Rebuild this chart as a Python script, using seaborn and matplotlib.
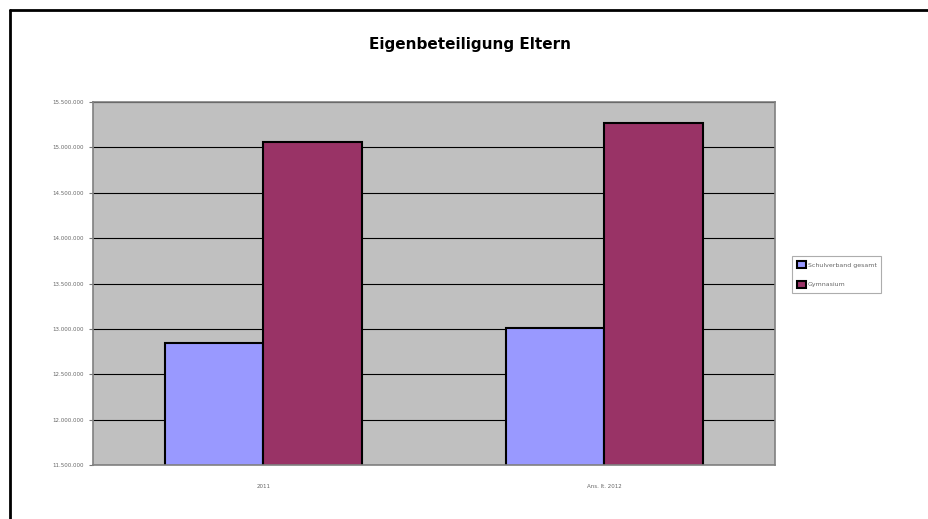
import matplotlib
matplotlib.use('Agg')

import matplotlib.pyplot as plt
from matplotlib.lines import Line2D
import pandas as pd
import seaborn as sns

categories = ["2011", "Ans. lt. 2012"]
series = ["Schulverband gesamt", "Gymnasium"]
schulverband = [12840000, 13010000]
gymnasium = [15060000, 15270000]
yticks = [11500000 + 500000 * i for i in range(9)]
ytick_labels = ["{:,}".format(v).replace(",", ".") for v in yticks]

df = pd.DataFrame({
    "Jahr": categories * 2,
    "Reihe": [series[0]] * 2 + [series[1]] * 2,
    "Wert": schulverband + gymnasium,
})

sns.set_style("white")
plt.rcParams['font.family'] = ['DejaVu Sans']

fig = plt.figure(figsize=(9.29, 5.19), dpi=100)
ax = fig.add_axes([93 / 929, 1 - 465 / 519, (775 - 93) / 929, (465 - 102) / 519])

sns.barplot(data=df, x="Jahr", y="Wert", hue="Reihe", ax=ax,
            palette=["#9999FF", "#993366"], saturation=1, width=0.575, gap=0,
            edgecolor="black", linewidth=1.5, legend=False)

ax.set_facecolor("#C0C0C0")
ax.set_ylim(yticks[0], yticks[-1])
ax.set_xlim(-0.5, 1.5)
ax.set_yticks(yticks)
ax.set_yticklabels(ytick_labels, fontsize=4, color="#666666")
ax.tick_params(axis="x", labelsize=4, labelcolor="#666666", length=0, pad=14)
ax.tick_params(axis="y", length=3, width=0.8, color="#777777", left=True)
ax.yaxis.grid(True, color="black", linewidth=0.8)
ax.set_axisbelow(True)
ax.set_xlabel("")
ax.set_ylabel("")
for s in ax.spines.values():
    s.set_color("#808080")
    s.set_linewidth(1.2)

fig.text(470 / 929, 1 - 45 / 519, "Eigenbeteiligung Eltern", ha="center",
         va="center", fontsize=11, fontweight="semibold", color="black")

handles = [plt.Rectangle((0, 0), 1, 1, facecolor=c, edgecolor="black", linewidth=1.5)
           for c in ["#9999FF", "#993366"]]
leg = fig.legend(handles, series, loc="upper left",
                 bbox_to_anchor=(792 / 929, 1 - 256 / 519), fontsize=4.5,
                 frameon=True, fancybox=False, handlelength=1.4, handleheight=1.4,
                 borderpad=0.8, labelspacing=2.0, handletextpad=0.3,
                 borderaxespad=0)
leg.get_frame().set_edgecolor("#999999")
leg.get_frame().set_linewidth(0.8)
for t in leg.get_texts():
    t.set_color("#666666")

# outer frame of the chart object
fig.add_artist(Line2D([10 / 929, 10 / 929], [0, 1 - 10 / 519], color="black", linewidth=2))
fig.add_artist(Line2D([10 / 929, 1], [1 - 10 / 519, 1 - 10 / 519], color="black", linewidth=2))

fig.savefig("out.png", dpi=100)
